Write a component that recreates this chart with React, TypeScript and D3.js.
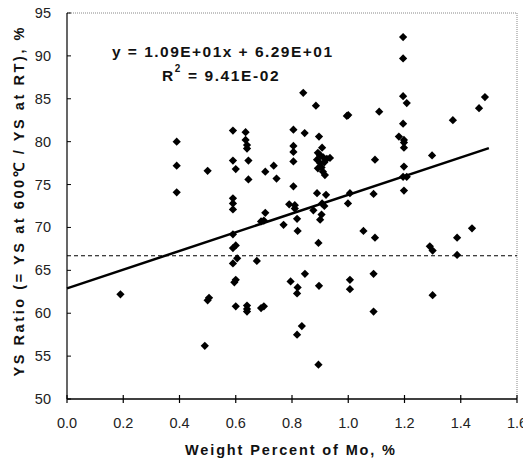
import React from "react";
import * as d3 from "d3";

const xTicks = [0, 0.2, 0.4, 0.6, 0.8, 1.0, 1.2, 1.4, 1.6];
const yTicks = [50, 55, 60, 65, 70, 75, 80, 85, 90, 95];
const slope = 10.9;
const intercept = 62.9;
const refLevel = 66.7;
const fitRange = [0, 1.5];

const moPct = [
  0.19,
  0.39, 0.39, 0.39,
  0.5, 0.5, 0.505, 0.49,
  0.59, 0.59, 0.6, 0.59, 0.59, 0.59, 0.59, 0.6, 0.59, 0.605, 0.59, 0.595, 0.6, 0.6,
  0.635, 0.635, 0.64, 0.64, 0.645, 0.645, 0.64, 0.64, 0.64,
  0.675, 0.69, 0.7, 0.705, 0.705, 0.69, 0.7,
  0.735, 0.745, 0.77, 0.79, 0.795,
  0.805, 0.805, 0.805, 0.805, 0.805, 0.81, 0.81, 0.818, 0.82, 0.82, 0.818, 0.818, 0.835,
  0.84, 0.845, 0.846, 0.885, 0.876,
  0.896, 0.907, 0.892, 0.91, 0.924, 0.935, 0.889, 0.9, 0.892, 0.91, 0.917, 0.9, 0.905, 0.915,
  0.889, 0.921, 0.907, 0.915, 0.905, 0.9, 0.894, 0.896, 0.894,
  0.995, 1.0, 1.006, 0.999, 1.006, 1.006,
  1.054, 1.09, 1.095, 1.095, 1.09, 1.09, 1.11,
  1.195, 1.195, 1.195, 1.208, 1.195, 1.18, 1.198, 1.198, 1.198, 1.198, 1.195, 1.208, 1.198,
  1.29, 1.3, 1.3, 1.298, 1.372, 1.387, 1.387, 1.44, 1.465, 1.486,
];
const ysRatio = [
  62.2,
  80.0, 77.2, 74.1,
  76.6, 61.5, 61.8, 56.2,
  81.3, 77.8, 76.8, 73.4, 72.8, 72.1, 69.2, 67.9, 67.6, 66.4, 65.8, 63.6, 63.9, 60.8,
  81.1, 80.2, 79.6, 79.2, 77.8, 75.6, 60.9, 60.5, 60.2,
  66.1, 70.7, 70.8, 71.7, 76.5, 60.6, 60.8,
  77.2, 75.7, 70.3, 72.7, 63.7,
  81.4, 79.5, 78.8, 77.7, 74.8, 72.6, 72.2, 71.0, 69.6, 63.0, 62.3, 57.5, 58.5,
  85.7, 81.0, 64.6, 84.2, 72.0,
  80.6, 79.3, 78.7, 78.2, 78.0, 78.1, 77.9, 77.5, 76.9, 76.5, 76.1, 78.4, 77.0, 77.6,
  74.0, 73.8, 72.8, 72.5, 71.5, 70.9, 68.2, 63.2, 54.0,
  83.0, 83.1, 74.0, 72.8, 63.9, 62.8,
  69.6, 73.9, 77.9, 68.8, 64.6, 60.2, 83.5,
  92.2, 89.7, 85.3, 84.5, 82.1, 80.6, 80.2, 79.9, 79.3, 77.1, 75.9, 75.9, 74.3,
  67.8, 67.3, 62.1, 78.4, 82.5, 68.8, 66.8, 69.9, 83.9, 85.2,
];

const W = 523;
const H = 461;
const L = 67, R = 517, T = 13, B = 399;

export default function App() {
  const x = d3.scaleLinear().domain([0, 1.6]).range([L, R]);
  const y = d3.scaleLinear().domain([50, 95]).range([B, T]);
  const diamond = d3.symbol().type(d3.symbolSquare).size(34)();
  const fit = d3.line<number>().x((v) => x(v)).y((v) => y(slope * v + intercept));
  const font = "'Liberation Sans', Arial, sans-serif";

  return (
    <svg width={W} height={H} style={{ position: "absolute", left: 0, top: 0, background: "#fff" }}>
      <rect x={0} y={0} width={W} height={H} fill="#fff" />
      {/* frame */}
      <line x1={L} y1={T} x2={R} y2={T} stroke="#888" strokeWidth={1} strokeDasharray="1,1" />
      <line x1={R} y1={T} x2={R} y2={B} stroke="#888" strokeWidth={1} strokeDasharray="1,1" />
      <line x1={L} y1={T} x2={L} y2={B} stroke="#000" strokeWidth={1.2} />
      <line x1={L} y1={B} x2={R} y2={B} stroke="#000" strokeWidth={1.5} />
      {yTicks.map((t) => (
        <g key={"y" + t}>
          <line x1={L} x2={L + 4} y1={y(t)} y2={y(t)} stroke="#000" strokeWidth={1} />
          <text x={51} y={y(t) + 5} textAnchor="end" fontFamily={font} fontSize={14.5} fill="#222">
            {t}
          </text>
        </g>
      ))}
      {xTicks.map((t) => (
        <g key={"x" + t}>
          <line x1={x(t)} x2={x(t)} y1={B - 4} y2={B + 4} stroke="#000" strokeWidth={1.2} />
          <text x={x(t)} y={428} textAnchor="middle" fontFamily={font} fontSize={14.5} fill="#222">
            {t.toFixed(1)}
          </text>
        </g>
      ))}
      {/* reference dashed line */}
      <line x1={x(0)} x2={x(1.6)} y1={y(refLevel)} y2={y(refLevel)} stroke="#000" strokeWidth={1} strokeDasharray="4,3" />
      {/* trend line */}
      <path d={fit(fitRange) || ""} stroke="#000" strokeWidth={2.5} fill="none" />
      {/* points */}
      {moPct.map((m, i) => (
        <path key={"p" + i} d={diamond || ""} transform={`translate(${x(m)},${y(ysRatio[i])}) rotate(45)`} fill="#000" />
      ))}
      {/* equation */}
      <text x={112} y={57} fontFamily={font} fontSize={15.5} fontWeight="bold" fill="#111" textLength={220} lengthAdjust="spacing">
        y = 1.09E+01x + 6.29E+01
      </text>
      <text x={162} y={81} fontFamily={font} fontSize={15.5} fontWeight="bold" fill="#111" letterSpacing={1.6}>
        R
        <tspan dy={-9} fontSize={10}>2</tspan>
        <tspan dy={9}> = 9.41E-02</tspan>
      </text>
      {/* axis titles */}
      <text x={290} y={455} textAnchor="middle" fontFamily={font} fontSize={14.5} fontWeight="bold" fill="#111" textLength={210} lengthAdjust="spacing">
        Weight Percent of Mo, %
      </text>
      <text
        transform={`translate(24,202) rotate(-90)`}
        textAnchor="middle"
        fontFamily={font}
        fontSize={14.5}
        fontWeight="bold"
        fill="#111"
        textLength={349}
        lengthAdjust="spacing"
      >
        YS Ratio (= YS at 600℃ / YS at RT), %
      </text>
    </svg>
  );
}
